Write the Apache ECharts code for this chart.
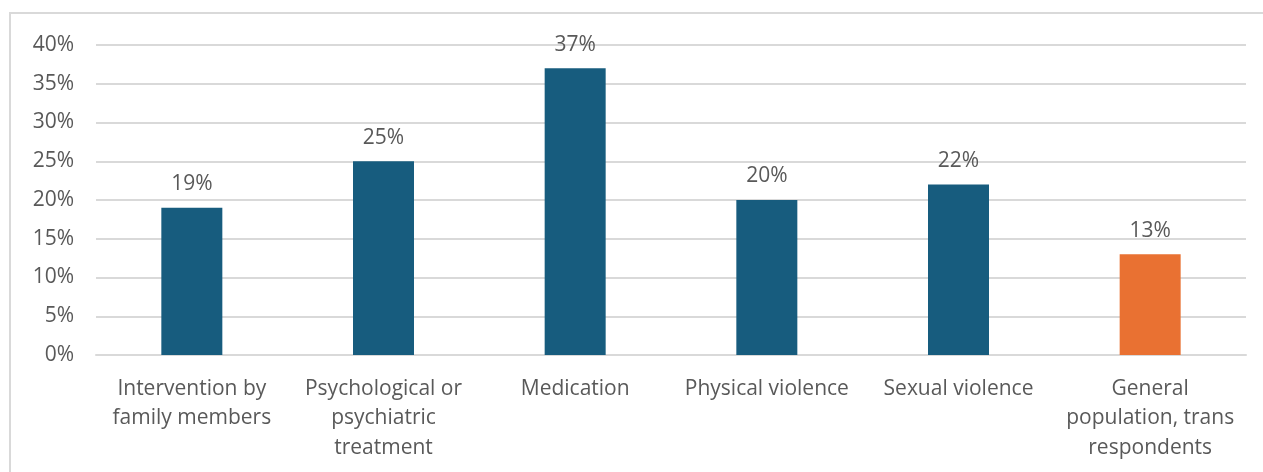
<!DOCTYPE html>
<html>
<head>
<meta charset="utf-8">
<script src="https://cdn.jsdelivr.net/npm/echarts@6/dist/echarts.min.js"></script>
<style>
html,body{margin:0;padding:0;background:#fff;}
#chart{width:1263px;height:472px;}
</style>
</head>
<body>
<div id="chart"></div>
<script>
const categories = [
  "Intervention by\nfamily members",
  "Psychological or\npsychiatric\ntreatment",
  "Medication",
  "Physical violence",
  "Sexual violence",
  "General\npopulation, trans\nrespondents"
];
const values = [19, 25, 37, 20, 22, 13];
const barColors = ["#175c7e", "#175c7e", "#175c7e", "#175c7e", "#175c7e", "#e97132"];

const chart = echarts.init(document.getElementById('chart'));
const font = '"Open Sans", "Noto Sans", sans-serif';
chart.setOption({
  animation: false,
  backgroundColor: '#fff',
  graphic: [{
    type: 'rect',
    shape: { x: 10, y: 13, width: 1400, height: 600 },
    style: { fill: 'none', stroke: '#d9d9d9', lineWidth: 2 },
    silent: true
  }],
  grid: { left: 96, right: 17, top: 45, bottom: 117, containLabel: false },
  xAxis: {
    type: 'category',
    data: categories,
    axisLine: { show: true, lineStyle: { color: '#d9d9d9', width: 2 } },
    axisTick: { show: false },
    axisLabel: {
      color: '#595959', fontFamily: font, fontSize: 21,
      lineHeight: 29.5, margin: 19, interval: 0
    }
  },
  yAxis: {
    type: 'value',
    min: 0, max: 40, interval: 5,
    axisLine: { show: false },
    axisTick: { show: false },
    splitLine: { lineStyle: { color: '#d9d9d9', width: 2 } },
    axisLabel: {
      color: '#595959', fontFamily: font, fontSize: 21, margin: 22,
      formatter: v => v + '%'
    }
  },
  series: [{
    type: 'bar',
    barWidth: 61,
    data: values.map((v, i) => ({ value: v, itemStyle: { color: barColors[i] } })),
    label: {
      show: true, position: 'top', distance: 13,
      color: '#595959', fontFamily: font, fontSize: 21,
      formatter: p => p.value + '%'
    }
  }]
});
</script>
</body>
</html>
